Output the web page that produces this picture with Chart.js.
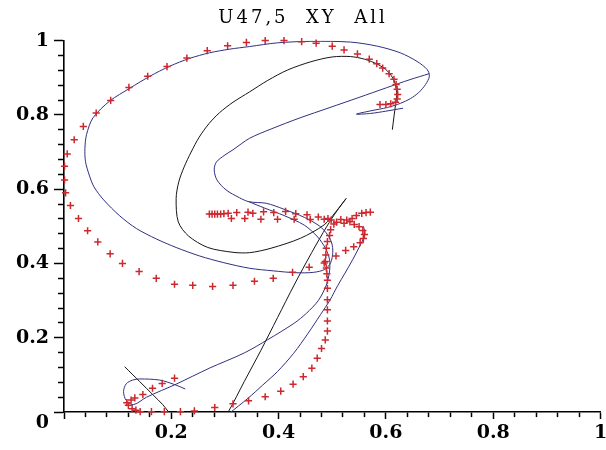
<!DOCTYPE html>
<html>
<head>
<meta charset="utf-8">
<title>U47,5 XY All</title>
<script src="https://cdn.jsdelivr.net/npm/chart.js"></script>
<style>
  html, body { margin: 0; padding: 0; background: #fff; }
  #wrap { width: 606px; height: 450px; }
</style>
</head>
<body>
<div id="wrap"><canvas id="xy"></canvas></div>
<script>
// reference "+" points
const redPts = [
  [0.589,0.828],[0.600,0.828],[0.609,0.830],[0.618,0.834],[0.621,0.843],[0.622,0.855],[0.621,0.869],[0.619,0.882],
  [0.615,0.896],[0.606,0.911],[0.594,0.926],[0.583,0.938],[0.569,0.950],[0.547,0.964],[0.522,0.975],[0.500,0.985],
  [0.470,0.993],[0.443,0.997],[0.410,1.000],[0.375,1.000],[0.340,0.995],[0.305,0.986],[0.267,0.973],[0.229,0.953],
  [0.192,0.930],[0.156,0.904],[0.121,0.874],[0.087,0.839],[0.060,0.805],[0.036,0.769],[0.019,0.733],[0.006,0.695],
  [0.001,0.662],[0.001,0.625],[0.003,0.590],[0.012,0.556],[0.027,0.521],[0.044,0.488],[0.063,0.458],[0.086,0.426],
  [0.109,0.400],[0.140,0.378],[0.172,0.360],[0.206,0.344],[0.240,0.341],[0.277,0.338],[0.315,0.341],[0.355,0.352],
  [0.390,0.360],[0.426,0.376],[0.457,0.390],[0.485,0.401],
  [0.497,0.491],[0.495,0.475],[0.491,0.459],[0.489,0.441],[0.488,0.423],[0.487,0.405],[0.489,0.388],[0.490,0.372],
  [0.491,0.355],[0.491,0.333],[0.491,0.302],[0.491,0.275],[0.491,0.245],[0.491,0.218],[0.487,0.194],[0.480,0.171],
  [0.472,0.145],[0.462,0.118],[0.446,0.095],[0.427,0.075],[0.404,0.056],[0.375,0.041],[0.344,0.030],[0.315,0.022],
  [0.281,0.012],[0.243,0.003],[0.217,0.001],[0.187,0.001],[0.163,0.001],[0.142,0.001],
  [0.134,0.005],[0.127,0.009],[0.120,0.018],[0.117,0.025],[0.125,0.032],[0.132,0.038],[0.147,0.047],[0.165,0.064],
  [0.183,0.077],[0.206,0.091],
  [0.507,0.420],[0.525,0.435],[0.540,0.445],[0.552,0.456],[0.558,0.467],[0.560,0.478],[0.557,0.489],[0.550,0.499],
  [0.541,0.505],[0.503,0.506],[0.508,0.511],[0.516,0.518],[0.522,0.508],[0.527,0.517],[0.533,0.512],[0.537,0.521],
  [0.545,0.529],[0.555,0.535],[0.563,0.537],[0.571,0.538],[0.498,0.517],[0.492,0.521],
  [0.271,0.533],[0.276,0.533],[0.281,0.533],[0.286,0.533],[0.292,0.533],[0.298,0.534],[0.306,0.535],[0.312,0.521],
  [0.322,0.537],[0.337,0.521],[0.343,0.538],[0.352,0.535],[0.367,0.519],[0.372,0.539],[0.391,0.537],[0.398,0.519],
  [0.413,0.540],[0.429,0.519],[0.432,0.534],[0.453,0.531],[0.459,0.518],[0.474,0.525],[0.485,0.519]
];

// blue trace, in three strokes
const bluePath = [
  [0.632,0.818],[0.600,0.810],[0.572,0.804],[0.545,0.802],[0.572,0.811],[0.603,0.820],[0.627,0.831],[0.646,0.844],
  [0.661,0.860],[0.674,0.882],[0.681,0.904],[0.677,0.922],[0.658,0.944],[0.627,0.967],[0.584,0.985],[0.534,0.996],
  [0.460,0.998],[0.398,0.994],[0.346,0.984],[0.309,0.977],[0.271,0.967],[0.234,0.952],[0.197,0.931],[0.160,0.904],
  [0.123,0.872],[0.085,0.837],[0.054,0.792],[0.042,0.747],[0.039,0.710],[0.040,0.675],[0.047,0.638],[0.056,0.606],
  [0.074,0.571],[0.104,0.528],[0.135,0.494],[0.172,0.466],[0.209,0.443],[0.253,0.420],[0.298,0.402],[0.346,0.387],
  [0.390,0.380],[0.432,0.375],[0.465,0.376],[0.486,0.384],[0.497,0.402],[0.501,0.430],[0.499,0.455],[0.491,0.478],
  [0.476,0.501],[0.448,0.524],[0.410,0.546],[0.377,0.562],[0.345,0.566],[0.327,0.577],[0.302,0.598],[0.285,0.625],
  [0.280,0.652],[0.284,0.673],[0.300,0.692],[0.315,0.706],[0.346,0.737],[0.386,0.762],[0.440,0.792],[0.494,0.819],
  [0.550,0.847],[0.601,0.873],[0.645,0.895],[0.681,0.911]
];
const blueDown = [
  [0.345,0.566],[0.374,0.549],[0.410,0.529],[0.448,0.503],[0.473,0.471],[0.488,0.439],[0.495,0.410],[0.495,0.380],
  [0.489,0.342],[0.474,0.300],[0.452,0.266],[0.429,0.239],[0.380,0.195],[0.336,0.159],[0.271,0.118],[0.209,0.075],
  [0.154,0.040],[0.130,0.020],[0.116,0.031],[0.111,0.055],[0.116,0.076],[0.128,0.086],[0.141,0.089],[0.178,0.086],
  [0.206,0.074],[0.226,0.062]
];
const blueRight = [
  [0.288,-0.030],[0.308,-0.004],[0.343,0.037],[0.370,0.072],[0.398,0.109],[0.428,0.158],[0.455,0.212],[0.478,0.262],
  [0.496,0.302],[0.510,0.340],[0.523,0.372],[0.538,0.410],[0.553,0.452],[0.561,0.480],[0.558,0.500]
];

// black trace
const blackPath = [
  [0.612,0.760],[0.615,0.795],[0.618,0.828],[0.620,0.860],[0.615,0.893],[0.603,0.918],[0.585,0.936],[0.560,0.950],
  [0.534,0.957],[0.500,0.956],[0.460,0.943],[0.417,0.921],[0.380,0.893],[0.346,0.862],[0.315,0.834],[0.290,0.806],
  [0.270,0.776],[0.252,0.740],[0.237,0.700],[0.224,0.660],[0.214,0.620],[0.209,0.575],[0.213,0.512],[0.232,0.474],
  [0.268,0.443],[0.315,0.430],[0.346,0.429],[0.386,0.441],[0.441,0.468],[0.485,0.504],[0.506,0.538],[0.526,0.575],
  [0.509,0.542],[0.490,0.500],[0.462,0.430],[0.429,0.342],[0.398,0.254],[0.367,0.166],[0.336,0.082],[0.306,0.000],
  [0.290,-0.030],[0.262,-0.050],[0.228,-0.040],[0.205,-0.016],[0.194,0.002],[0.184,0.020],[0.166,0.046],[0.141,0.082],
  [0.113,0.122]
];

const axisMin = 0, axisMax = 1;
const tickStep = 0.04;   // minor ticks
const labelStep = 0.2;   // labelled ticks

const toXY = pts => pts.map(([x, y]) => ({x: x, y: y}));
const isMajor = v => Math.abs(v / labelStep - Math.round(v / labelStep)) < 1e-6;
const fmt = v => String(+v.toFixed(1));
const tickFont = { family: 'DejaVu Serif', size: 19, weight: 'bold' };

// only the title gets the wide letter spacing
const spacedTitle = {
  id: 'spacedTitle',
  beforeDraw(chart) { chart.ctx.letterSpacing = '3px'; },
  beforeDatasetsDraw(chart) { chart.ctx.letterSpacing = '0px'; }
};

const lineSet = (pts, color) => ({
  data: toXY(pts),
  showLine: true,
  borderColor: color,
  borderWidth: 1,
  pointRadius: 0,
  tension: 0.3,
  fill: false
});

new Chart(document.getElementById('xy'), {
  type: 'scatter',
  data: {
    datasets: [
      {
        data: toXY(redPts),
        showLine: false,
        pointStyle: 'cross',
        pointRadius: 3.6,
        pointBorderWidth: 1.5,
        pointBorderColor: '#cc2830',
        clip: false
      },
      lineSet(bluePath, '#30307f'),
      lineSet(blueDown, '#30307f'),
      lineSet(blueRight, '#30307f'),
      lineSet(blackPath, '#161616')
    ]
  },
  options: {
    responsive: true,
    maintainAspectRatio: false,
    animation: false,
    layout: { padding: 0 },
    plugins: {
      legend: { display: false },
      tooltip: { enabled: false },
      title: {
        display: true,
        text: 'U47,5  XY  All',
        color: '#000',
        font: { family: 'DejaVu Serif', size: 18, weight: 'normal' },
        padding: { top: 8, bottom: 11 }
      }
    },
    scales: {
      x: {
        type: 'linear', min: axisMin, max: axisMax,
        ticks: {
          stepSize: tickStep, maxTicksLimit: 100, autoSkip: false,
          minRotation: 0, maxRotation: 0, padding: 3, z: 1,
          color: '#000', font: tickFont,
          callback: v => (isMajor(v) && v > 0) ? fmt(v) : ''
        },
        grid: {
          drawOnChartArea: false, tickLength: 7, tickWidth: 1.5, tickColor: '#000',
          tickBorderDash: c => (c.tick && isMajor(c.tick.value)) ? [] : [4.5, 100]
        },
        border: { color: '#000', width: 1.6 },
        afterFit: s => { s.height = 38; s.paddingLeft = 0; s.paddingRight = 4; }
      },
      y: {
        type: 'linear', min: axisMin, max: axisMax,
        ticks: {
          stepSize: tickStep, maxTicksLimit: 100, autoSkip: false,
          padding: 5, z: 1, color: '#000', font: tickFont,
          // the origin label sits a little below the axis, as in the reference
          callback: v => v === 0 ? ['', '0'] : (isMajor(v) ? fmt(v) : '')
        },
        grid: {
          drawOnChartArea: false, tickLength: 10, tickWidth: 1.5, tickColor: '#000',
          tickBorderDash: c => (c.tick && isMajor(c.tick.value)) ? [] : [0, 4, 6, 100]
        },
        border: { color: '#000', width: 1.6 },
        afterFit: s => { s.width = 64; s.paddingTop = 0; s.paddingBottom = 0; }
      }
    }
  },
  plugins: [spacedTitle]
});
</script>
</body>
</html>
